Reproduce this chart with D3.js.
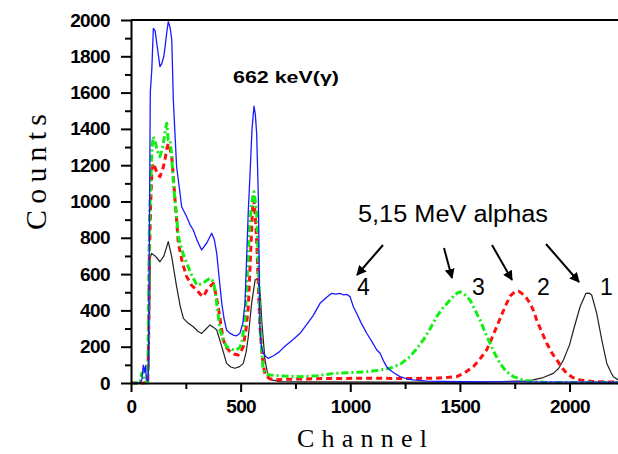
<!DOCTYPE html>
<html>
<head>
<meta charset="utf-8">
<script src="https://cdn.jsdelivr.net/npm/d3@7/dist/d3.min.js"></script>
<style>
  html, body { margin: 0; padding: 0; background: #fff; }
  svg { display: block; }
</style>
</head>
<body>
<script>
// Pulse-height spectra: channel vs counts for four detector settings (1-4)
const yTicks = [0, 200, 400, 600, 800, 1000, 1200, 1400, 1600, 1800, 2000];
const yMinorTicks = [100, 300, 500, 700, 900, 1100, 1300, 1500, 1700, 1900];
const xTicks = [0, 500, 1000, 1500, 2000];
const xMinorTicks = [250, 750, 1250, 1750];

// [channel, counts]
const spectrum1 = [[0,0],[60,0],[75,2],[82,100],[88,690],[94,714],[110,700],[132,668],[150,700],[170,779],[185,700],[208,531],[225,420],[239,356],[260,330],[284,310],[305,285],[322,273],[340,295],[360,320],[378,305],[391,292],[414,200],[436,108],[455,88],[474,81],[495,90],[512,108],[525,170],[535,255],[550,439],[566,567],[575,575],[581,549],[590,480],[596,347],[611,127],[625,40],[640,17],[680,8],[800,6],[1200,5],[1600,5],[1800,12],[1835,17],[1880,30],[1926,53],[1950,80],[1972,127],[2000,210],[2018,292],[2048,420],[2075,494],[2090,495],[2101,485],[2124,384],[2147,237],[2170,108],[2190,55],[2200,35],[2222,17]];

const spectrum2 = [[0,0],[60,0],[68,5],[72,0],[76,0],[80,200],[84,700],[90,1000],[96,1180],[102,1210],[112,1180],[120,1150],[132,1137],[145,1180],[155,1229],[163,1290],[170,1320],[178,1290],[186,1247],[201,1008],[216,770],[235,660],[254,586],[275,540],[300,512],[315,490],[330,476],[350,520],[375,549],[385,500],[398,420],[410,320],[421,237],[435,195],[452,172],[470,160],[489,154],[500,170],[512,200],[525,300],[535,420],[545,700],[552,900],[558,1036],[565,950],[573,788],[580,560],[588,310],[598,150],[611,44],[630,25],[650,17],[700,20],[771,22],[900,25],[1075,26],[1250,25],[1379,26],[1440,30],[1485,35],[1520,55],[1561,90],[1590,130],[1622,182],[1645,245],[1668,310],[1690,375],[1713,439],[1730,480],[1751,503],[1768,505],[1782,494],[1800,475],[1820,439],[1835,400],[1850,347],[1870,290],[1896,219],[1920,165],[1942,127],[1965,85],[1987,53],[2015,30],[2048,17],[2100,8],[2222,5]];

const spectrum3 = [[0,0],[40,0],[48,50],[55,60],[62,10],[70,0],[76,0],[80,370],[84,900],[90,1100],[96,1300],[102,1357],[110,1330],[120,1280],[132,1247],[145,1300],[155,1380],[163,1431],[170,1339],[178,1339],[186,1250],[193,1100],[208,916],[216,806],[235,720],[254,660],[275,600],[300,540],[320,545],[340,560],[360,577],[375,560],[383,512],[395,400],[406,292],[420,240],[436,200],[460,185],[482,182],[495,195],[505,219],[518,330],[528,531],[540,850],[550,990],[561,1054],[568,990],[573,935],[580,700],[588,347],[596,180],[603,72],[615,50],[634,44],[700,38],[771,35],[850,40],[923,53],[1000,57],[1075,62],[1130,70],[1181,81],[1230,105],[1272,145],[1300,185],[1333,237],[1360,290],[1394,365],[1420,410],[1455,457],[1480,490],[1500,503],[1520,490],[1546,457],[1570,400],[1592,347],[1615,280],[1637,219],[1660,160],[1683,108],[1710,65],[1744,35],[1790,15],[1835,7],[1900,3],[2222,2]];

const spectrum4 = [[0,0],[40,0],[50,20],[56,99],[62,60],[66,95],[70,20],[78,10],[82,500],[88,1600],[95,1730],[102,1954],[110,1940],[120,1850],[132,1743],[140,1760],[150,1800],[163,1930],[170,1991],[178,1960],[186,1890],[193,1559],[208,1192],[220,1080],[231,971],[254,916],[270,870],[284,843],[300,790],[322,733],[345,770],[368,825],[380,790],[391,714],[402,580],[414,439],[425,350],[436,292],[450,275],[467,264],[482,260],[497,274],[510,330],[520,439],[528,714],[535,950],[543,1155],[552,1400],[561,1526],[567,1480],[573,1376],[578,1150],[581,1008],[584,700],[588,292],[595,200],[603,164],[615,145],[626,136],[650,150],[675,170],[695,195],[720,220],[745,245],[771,274],[800,320],[830,370],[862,439],[890,470],[915,494],[935,490],[953,494],[970,485],[985,488],[999,476],[1014,420],[1029,384],[1050,330],[1075,274],[1100,225],[1121,182],[1136,164],[1150,125],[1166,90],[1181,72],[1200,55],[1227,35],[1260,22],[1288,17],[1350,10],[1500,7],[2222,5]];

const series = [
  { name: "1", data: spectrum1, color: "#222222", width: 1.2, dash: null },
  { name: "2", data: spectrum2, color: "#ff1010", width: 3, dash: "6,4" },
  { name: "3", data: spectrum3, color: "#11ee11", width: 3, dash: "7,3,2,3" },
  { name: "4", data: spectrum4, color: "#1a1aff", width: 1.3, dash: null }
];

const W = 618, H = 454;
const plotLeft = 131, plotRight = 618, plotTop = 20, plotBottom = 383;

const svg = d3.select("body").append("svg").attr("width", W).attr("height", H);

const x = d3.scaleLinear().domain([0, 2221]).range([plotLeft, plotRight]);
const y = d3.scaleLinear().domain([0, 2000]).range([plotBottom, plotTop]);

const defs = svg.append("defs");
defs.append("clipPath").attr("id", "plot")
  .append("rect").attr("x", plotLeft).attr("y", plotTop - 2)
  .attr("width", plotRight - plotLeft).attr("height", plotBottom - plotTop + 4);

const line = d3.line().x(d => x(d[0])).y(d => y(d[1]));

svg.append("g").attr("clip-path", "url(#plot)")
  .selectAll("path").data(series).join("path")
  .attr("d", d => line(d.data))
  .attr("fill", "none")
  .attr("stroke", d => d.color)
  .attr("stroke-width", d => d.width)
  .attr("stroke-dasharray", d => d.dash)
  .attr("stroke-linejoin", "round");

const tickFont = g => g.selectAll("text")
  .attr("font-family", "'Liberation Sans', Arial, sans-serif")
  .attr("font-size", 19).attr("font-weight", "bold")
  .attr("letter-spacing", "-0.6").attr("fill", "#000");

// Y axis
svg.append("g").attr("transform", `translate(${plotLeft},0)`)
  .call(d3.axisLeft(y).tickValues(yTicks).tickSize(10).tickSizeOuter(0).tickPadding(11).tickFormat(d3.format("d")))
  .call(g => g.select(".domain").attr("stroke-width", 2))
  .call(g => g.selectAll(".tick line").attr("stroke-width", 2))
  .call(tickFont);
svg.append("g").attr("transform", `translate(${plotLeft},0)`)
  .call(d3.axisLeft(y).tickValues(yMinorTicks).tickSize(6).tickFormat(""))
  .call(g => g.select(".domain").remove())
  .call(g => g.selectAll(".tick line").attr("stroke-width", 2));

// X axis
svg.append("g").attr("transform", `translate(0,${plotBottom})`)
  .call(d3.axisBottom(x).tickValues(xTicks).tickSize(9).tickSizeOuter(0).tickPadding(8).tickFormat(d3.format("d")))
  .call(g => g.select(".domain").attr("stroke-width", 2))
  .call(g => g.selectAll(".tick line").attr("stroke-width", 2))
  .call(tickFont);
svg.append("g").attr("transform", `translate(0,${plotBottom})`)
  .call(d3.axisBottom(x).tickValues(xMinorTicks).tickSize(6).tickFormat(""))
  .call(g => g.select(".domain").remove())
  .call(g => g.selectAll(".tick line").attr("stroke-width", 2));

// Top frame line
svg.append("line").attr("x1", plotLeft).attr("x2", plotRight).attr("y1", plotTop).attr("y2", plotTop)
  .attr("stroke", "#000").attr("stroke-width", 2);

// Axis titles
svg.append("text").attr("transform", "translate(46,172) rotate(-90)")
  .attr("text-anchor", "middle")
  .attr("font-family", "'Liberation Serif', 'Times New Roman', serif")
  .attr("font-size", 30).attr("textLength", 116).attr("lengthAdjust", "spacing")
  .text("Counts");
svg.append("text").attr("x", 362).attr("y", 447)
  .attr("text-anchor", "middle")
  .attr("font-family", "'Liberation Serif', 'Times New Roman', serif")
  .attr("font-size", 26).attr("textLength", 130).attr("lengthAdjust", "spacing")
  .text("Channel");

// Annotations
svg.append("text").attr("x", 233).attr("y", 83)
  .attr("font-family", "'Liberation Sans', Arial, sans-serif")
  .attr("font-size", 17).attr("font-weight", "bold")
  .attr("textLength", 106).attr("lengthAdjust", "spacingAndGlyphs")
  .text("662 keV(γ)");

svg.append("text").attr("x", 358).attr("y", 222)
  .attr("font-family", "'Liberation Sans', Arial, sans-serif")
  .attr("font-size", 23).attr("textLength", 190).attr("lengthAdjust", "spacingAndGlyphs")
  .text("5,15 MeV alphas");

const peakLabels = [
  { label: "4", tx: 357, x1: 383, y1: 245, x2: 357, y2: 275 },
  { label: "3", tx: 472, x1: 444, y1: 248, x2: 452, y2: 278 },
  { label: "2", tx: 537, x1: 492, y1: 245, x2: 512, y2: 280 },
  { label: "1", tx: 600, x1: 546, y1: 244, x2: 579, y2: 282 }
];

defs.append("marker").attr("id", "arrow")
  .attr("viewBox", "0 0 10 10").attr("refX", 9).attr("refY", 5)
  .attr("markerWidth", 5).attr("markerHeight", 5).attr("orient", "auto")
  .attr("markerUnits", "strokeWidth")
  .append("path").attr("d", "M0,0 L10,5 L0,10 z").attr("fill", "#000");

svg.selectAll(".arrow").data(peakLabels).join("line").attr("class", "arrow")
  .attr("x1", d => d.x1).attr("y1", d => d.y1).attr("x2", d => d.x2).attr("y2", d => d.y2)
  .attr("stroke", "#000").attr("stroke-width", 2).attr("marker-end", "url(#arrow)");

svg.selectAll(".peak-label").data(peakLabels).join("text").attr("class", "peak-label")
  .attr("x", d => d.tx).attr("y", 295)
  .attr("font-family", "'Liberation Sans', Arial, sans-serif")
  .attr("font-size", 23)
  .text(d => d.label);
</script>
</body>
</html>
